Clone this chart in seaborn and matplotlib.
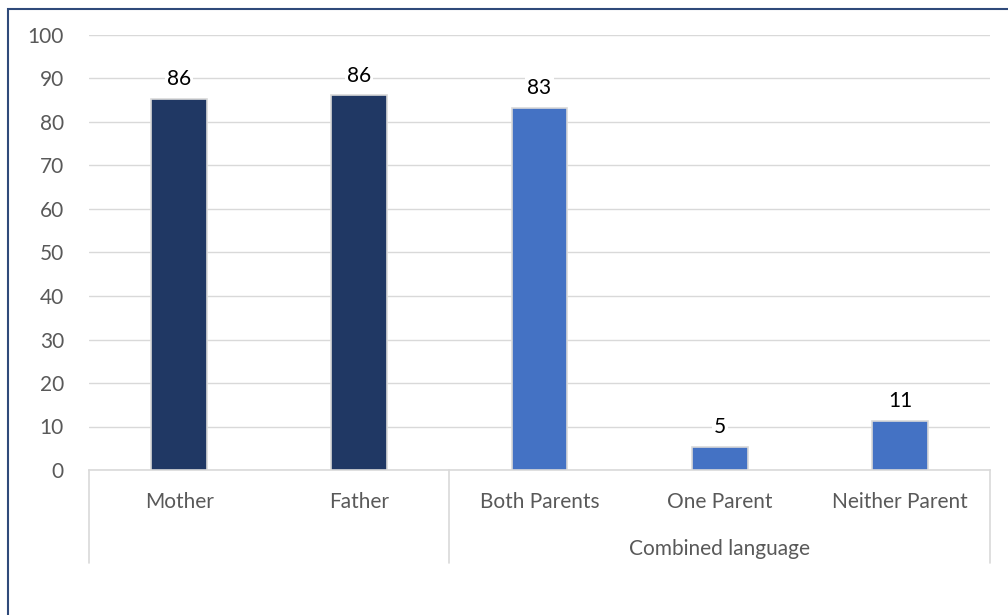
import matplotlib
matplotlib.use("Agg")
import matplotlib.pyplot as plt
import matplotlib.patches as mpatches
import matplotlib.transforms as mtransforms
import pandas as pd
import seaborn as sns

# values
categories = ["Mother", "Father", "Both Parents", "One Parent", "Neither Parent"]
values = [85.4, 86.1, 83.3, 5.3, 11.3]
labels = ["86", "86", "83", "5", "11"]
groups = ["single", "single", "combined", "combined", "combined"]
group_title = "Combined language"
yticks = list(range(0, 101, 10))

sns.set_theme(style="white")
plt.rcParams["font.family"] = ["Lato", "DejaVu Sans"]

df = pd.DataFrame({"category": categories, "value": values, "group": groups})

fig = plt.figure(figsize=(10.08, 6.15), dpi=100)
W, H = 1008, 615
ax = fig.add_axes([89 / W, (H - 470) / H, (990 - 89) / W, (470 - 35) / H])

sns.barplot(data=df, x="category", y="value", hue="group",
            palette={"single": "#203864", "combined": "#4472C4"},
            saturation=1, dodge=False, width=0.31, edgecolor="#D9D9D9",
            linewidth=1.2, legend=False, ax=ax, zorder=3)

ax.set_xlim(-0.5, len(categories) - 0.5)
ax.set_ylim(0, 100)
ax.set_yticks(yticks)
ax.yaxis.grid(True, color="#D9D9D9", linewidth=1.0, zorder=0)
ax.set_axisbelow(True)
ax.set_xlabel("")
ax.set_ylabel("")
for side in ["top", "right", "left"]:
    ax.spines[side].set_visible(False)
ax.spines["bottom"].set_color("#D9D9D9")
ax.spines["bottom"].set_linewidth(1.2)
ax.tick_params(axis="both", length=0, colors="#595959", labelsize=15)
ax.tick_params(axis="x", pad=16)
ax.tick_params(axis="y", pad=18)

for p, lab in zip(ax.patches, labels):
    ax.annotate(lab, (p.get_x() + p.get_width() / 2, p.get_height()),
                xytext=(0, 7), textcoords="offset points",
                ha="center", va="bottom", fontsize=15, color="#000000",
                bbox=dict(boxstyle="square,pad=0.1", fc="white", ec="none"),
                zorder=5)

# multi-level category axis: separators and group title
trans = mtransforms.blended_transform_factory(ax.transData, ax.transAxes)
for xpos in [-0.5, 1.5, 4.5]:
    ax.plot([xpos, xpos], [0, -0.214], transform=trans, color="#D9D9D9",
            linewidth=1.2, clip_on=False)
ax.text(3.0, -0.182, group_title, transform=trans, ha="center", va="center",
        fontsize=15, color="#595959")

# outer chart frame (partly outside the picture)
fig.patches.append(mpatches.Rectangle((8 / W, -0.1), 1.2, (H - 9) / H + 0.1,
                                      transform=fig.transFigure, fill=False,
                                      edgecolor="#2F4A7A", linewidth=1.5))

fig.savefig("out.png", dpi=100)
